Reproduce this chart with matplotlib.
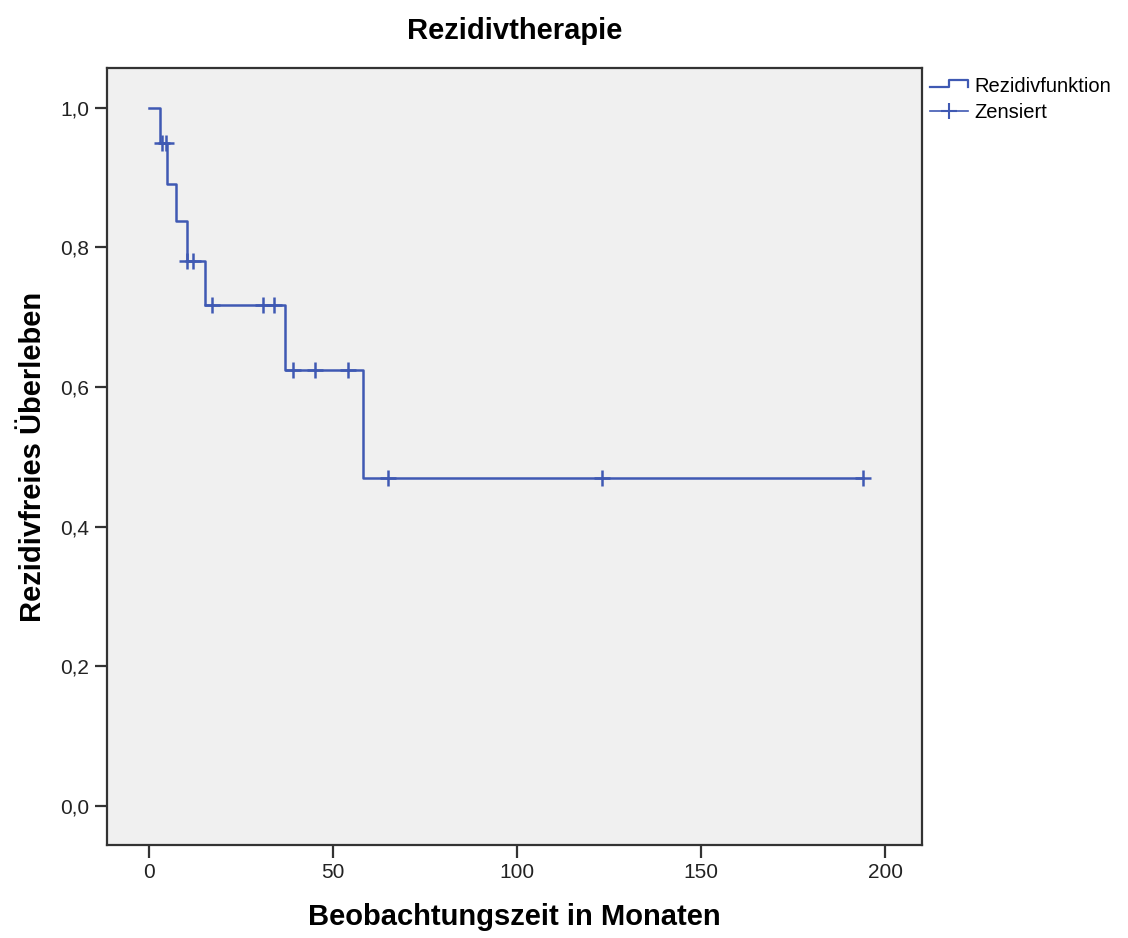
import matplotlib
matplotlib.use("Agg")
import matplotlib.pyplot as plt
from matplotlib.lines import Line2D
from matplotlib.legend_handler import HandlerBase
import numpy as np

plt.rcParams['font.family'] = ['Liberation Sans', 'DejaVu Sans']

# Kaplan-Meier Schätzung
event_times = [0, 3, 5, 7.2, 10.3, 15.3, 37, 58]
survival = [1.0, 0.95, 0.891, 0.838, 0.78, 0.717, 0.625, 0.47]
end_time = 194
censored_times = [3.5, 4.5, 10.3, 12, 17, 31, 34, 39, 45, 54, 65, 123, 194]

x_ticks = [0, 50, 100, 150, 200]
y_ticks = [0.0, 0.2, 0.4, 0.6, 0.8, 1.0]
y_tick_labels = ["0,0", "0,2", "0,4", "0,6", "0,8", "1,0"]

blue = '#3f59b3'
frame = '#333333'


def surv_at(t):
    idx = np.searchsorted(event_times, t, side='right') - 1
    return survival[idx]


class StepHandler(HandlerBase):
    def create_artists(self, legend, orig_handle, xdescent, ydescent, width, height, fontsize, trans):
        xs = np.array([0, 0.48, 0.48, 1.0, 1.0]) * width - xdescent
        ys = np.array([0.35, 0.35, 0.85, 0.85, 0.35]) * height - ydescent
        line = Line2D(xs, ys, color=blue, lw=1.6, transform=trans)
        return [line]


fig = plt.figure(figsize=(11.28, 9.38), dpi=100)
ax = fig.add_axes([0.0949, 0.0991, 0.7225, 0.8284])
ax.set_facecolor('#f0f0f0')

step_x = list(event_times) + [end_time]
step_y = list(survival) + [survival[-1]]
ax.step(step_x, step_y, where='post', color=blue, lw=1.8)
cens_y = [surv_at(t) for t in censored_times]
ax.plot(censored_times, cens_y, linestyle='none', marker='+', color=blue,
        markersize=11, markeredgewidth=1.8)

ax.set_xlim(-11.4, 210)
ax.set_ylim(-0.056, 1.057)
ax.set_xticks(x_ticks)
ax.set_yticks(y_ticks)
ax.set_yticklabels(y_tick_labels)
ax.tick_params(length=9, width=1.6, color=frame, labelsize=15, labelcolor='#222222', pad=4)
for s in ax.spines.values():
    s.set_color(frame)
    s.set_linewidth(1.6)

ax.set_title("Rezidivtherapie", fontsize=21, fontweight='bold', pad=21)
ax.set_xlabel("Beobachtungszeit in Monaten", fontsize=21, fontweight='bold', labelpad=15)
ax.set_ylabel("Rezidivfreies Überleben", fontsize=21, fontweight='bold', labelpad=9)

h_step = Line2D([], [], color=blue)
h_cens = Line2D([], [], color=blue, lw=1.2, marker='+', markersize=12, markeredgewidth=1.5)
fig.legend([h_step, h_cens], ["Rezidivfunktion", "Zensiert"], loc='upper left',
           bbox_to_anchor=(0.8175, 0.9265), frameon=False, fontsize=14.5,
           handler_map={h_step: StepHandler()}, handlelength=1.9, handletextpad=0.3,
           labelspacing=0.35, borderaxespad=0)

fig.savefig("out.png", dpi=100)
